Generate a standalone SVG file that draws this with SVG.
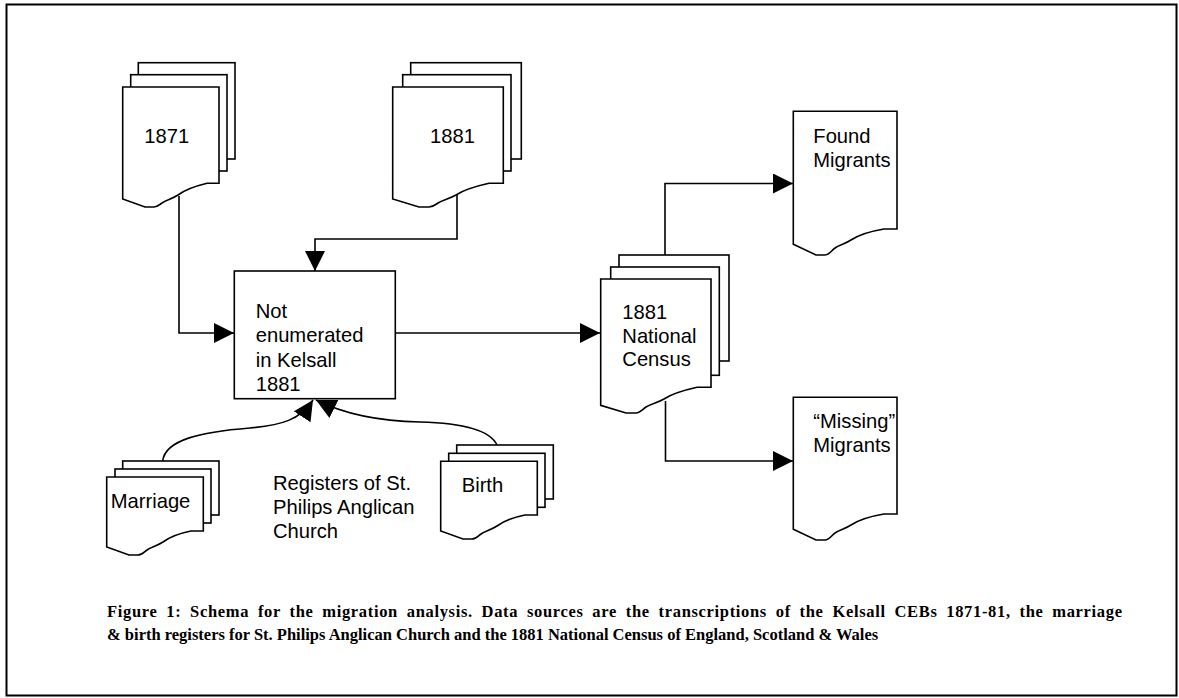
<svg xmlns="http://www.w3.org/2000/svg" width="1179" height="698" viewBox="0 0 1179 698">
<defs>
<marker id="ah" markerUnits="userSpaceOnUse" markerWidth="20" markerHeight="20" refX="20" refY="10" orient="auto" viewBox="0 0 20 20">
<path d="M0,0 L20,10 L0,20 Z" fill="#000"/>
</marker>
</defs>
<style>
.s{fill:#fff;stroke:#000;stroke-width:1.6;stroke-linejoin:miter}
.t{font-family:"Liberation Sans",Arial,sans-serif;font-size:20.2px;fill:#000}
.c{fill:none;stroke:#000;stroke-width:1.6;marker-end:url(#ah)}
.cap{font-family:"Liberation Serif","Times New Roman",serif;font-weight:bold;font-size:16.5px;fill:#000}
.just{word-spacing:4px}
</style>
<rect x="6.5" y="4.5" width="1170" height="691" fill="#fff" stroke="#000" stroke-width="2"/>

<g id="connectors">
<path class="c" d="M179,196 V333 H234"/>
<path class="c" d="M457,194 V239 H315 V271"/>
<path class="c" d="M395,333 H600"/>
<path class="c" d="M665,255 V183.5 H793"/>
<path class="c" d="M665.5,401 V461 H793"/>
<path class="c" d="M162.7,461 C165,440 200,432 250,428 C282,425 300,420 313,400"/>
<path class="c" d="M497,445 C490,430 460,423 420,422 C372,421 340,412 316,400"/>
</g>

<g id="n1871">
<rect class="s" x="138.3" y="62.7" width="96.7" height="96.3"/>
<rect class="s" x="130.7" y="74.7" width="96.3" height="96.3"/>
<path class="s" d="M122.7,87 H219 V183.3 H207 C196,186 186,189 178,195 C172,199 166,200 162,203 C159,205 157,207 154,207 H145 L122.7,199 Z"/>
<text class="t" x="144.3" y="142.7">1871</text>
</g>

<g id="n1881">
<rect class="s" x="410.7" y="62.7" width="110.6" height="96.3"/>
<rect class="s" x="402.7" y="74.7" width="108.3" height="96.3"/>
<path class="s" d="M392.7,87 H503.3 V183.3 H489 C477,186 465,189 456,195 C449,199 443,200 438,203 C435,205 433,207 429,207 H419 L392.7,199 Z"/>
<text class="t" x="430" y="142.7">1881</text>
</g>

<g id="notenum">
<rect class="s" x="234.3" y="271" width="161" height="127.7"/>
<text class="t" x="255.7" y="318.3">Not</text>
<text class="t" x="255.7" y="342.3">enumerated</text>
<text class="t" x="255.7" y="366.7">in Kelsall</text>
<text class="t" x="255.7" y="390.7">1881</text>
</g>

<g id="census">
<rect class="s" x="619" y="255" width="110" height="106"/>
<rect class="s" x="610.7" y="267" width="108.6" height="108.3"/>
<path class="s" d="M600.7,279 H711 V387.3 H697 C685,390 673,393 664,399 C657,403 651,404 646,407 C643,409 640,413 636,413 H626 L600.7,405.3 Z"/>
<text class="t" x="622.3" y="319">1881</text>
<text class="t" x="622.3" y="342.7">National</text>
<text class="t" x="622.3" y="366">Census</text>
</g>

<g id="found">
<path class="s" d="M793.3,111.3 H897 V229 H884 C872,231 860,234 851,240 C845,244 839,245 835,248 C832,250 829,255 825,255 H816 L793.3,244.3 Z"/>
<text class="t" x="813.3" y="143.3">Found</text>
<text class="t" x="813.3" y="166.7">Migrants</text>
</g>

<g id="missing">
<path class="s" d="M793.3,397.3 H897 V514 H884 C872,516 860,519 851,525 C845,529 839,530 835,533 C832,535 829,540 825,540 H816 L793.3,529.3 Z"/>
<text class="t" x="813.3" y="428.3">“Missing”</text>
<text class="t" x="813.3" y="451.7">Migrants</text>
</g>

<g id="marriage">
<rect class="s" x="122.7" y="461" width="96.3" height="54"/>
<rect class="s" x="115" y="469" width="96" height="54"/>
<path class="s" d="M106.7,477 H203.3 V531 H191 C181,533 171,536 163,542 C157,546 151,547 147,550 C144,552 142,555 138,555 H129 L106.7,547 Z"/>
<text class="t" x="110.7" y="507.5">Marriage</text>
</g>

<g id="birth">
<rect class="s" x="456.7" y="445" width="96.6" height="54"/>
<rect class="s" x="448.7" y="453.3" width="96.3" height="54"/>
<path class="s" d="M440.7,461.3 H537.3 V515 H525 C515,517 505,520 497,526 C491,530 485,531 481,534 C478,536 476,539 472,539 H463 L440.7,531 Z"/>
<text class="t" x="461.7" y="491.5">Birth</text>
</g>

<g id="registers">
<text class="t" x="273" y="490">Registers of St.</text>
<text class="t" x="273" y="514">Philips Anglican</text>
<text class="t" x="273" y="538">Church</text>
</g>

<g id="caption">
<text class="cap just" x="107" y="617" textLength="1015" lengthAdjust="spacing">Figure 1: Schema for the migration analysis. Data sources are the transcriptions of the Kelsall CEBs 1871-81, the marriage</text>
<text class="cap" x="107" y="640">&amp; birth registers for St. Philips Anglican Church and the 1881 National Census of England, Scotland &amp; Wales</text>
</g>
</svg>
